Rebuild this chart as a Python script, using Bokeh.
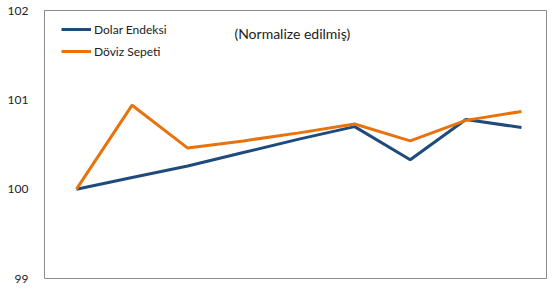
from bokeh.plotting import figure
from bokeh.models import ColumnDataSource, FixedTicker, Label, Legend, LegendItem, Range1d
from bokeh.embed import file_html
from bokeh.resources import INLINE

# ---- data ----
x_labels = ["01.01", "01.02", "01.03", "01.04", "01.05", "01.06", "01.07", "01.08", "01.09"]
dolar_endeksi = [100.00, 100.13, 100.26, 100.41, 100.56, 100.70, 100.33, 100.78, 100.69]
doviz_sepeti = [100.00, 100.94, 100.46, 100.54, 100.63, 100.73, 100.54, 100.77, 100.87]
y_ticks = [99, 100, 101, 102]
series_names = ["Dolar Endeksi", "Döviz Sepeti"]
subtitle = "(Normalize edilmiş)"

FONT = "Lato"
BLUE = "#1f4a7c"
ORANGE = "#e8730c"

xs = list(range(len(x_labels)))
src = ColumnDataSource(dict(x=xs, a=dolar_endeksi, b=doviz_sepeti))

p = figure(width=550, height=291, output_backend="svg", toolbar_location=None,
           x_range=Range1d(-0.575, 8.45), y_range=Range1d(99, 102))
p.min_border_left = 44
p.min_border_right = 4
p.min_border_top = 10
p.min_border_bottom = 13
p.background_fill_color = "white"
p.border_fill_color = "white"
p.outline_line_color = "#8c8c8c"
p.outline_line_width = 1
p.grid.visible = False
p.xaxis.visible = False

ya = p.yaxis[0]
ya.ticker = FixedTicker(ticks=y_ticks)
ya.axis_line_color = None
ya.major_tick_line_color = None
ya.minor_tick_line_color = None
ya.major_label_text_font = FONT
ya.major_label_text_font_size = "12px"
ya.major_label_text_color = "#222222"
ya.major_label_standoff = 10

r1 = p.line("x", "a", source=src, line_color=BLUE, line_width=3)
r2 = p.line("x", "b", source=src, line_color=ORANGE, line_width=3)

legend = Legend(items=[LegendItem(label=series_names[0], renderers=[r1]),
                       LegendItem(label=series_names[1], renderers=[r2])],
                location=(17, 217), orientation="vertical")
legend.border_line_color = None
legend.background_fill_alpha = 0
legend.padding = 0
legend.margin = 0
legend.spacing = 2
legend.glyph_width = 30
legend.glyph_height = 20
legend.label_height = 20
legend.label_standoff = 3
legend.label_text_font = FONT
legend.label_text_font_size = "12px"
legend.label_text_color = "#222222"
p.add_layout(legend)

p.add_layout(Label(x=3.88, y=101.74, text=subtitle, text_font=FONT,
                   text_font_size="14px", text_align="center",
                   text_baseline="middle", text_color="#222222"))

for i, lab in enumerate(x_labels):
    p.add_layout(Label(x=i, y=99, y_offset=-5, text=lab, text_font=FONT,
                       text_font_size="12px", text_align="center",
                       text_baseline="top", text_color="#222222"))

open("out.html", "w").write(file_html(p, INLINE))
